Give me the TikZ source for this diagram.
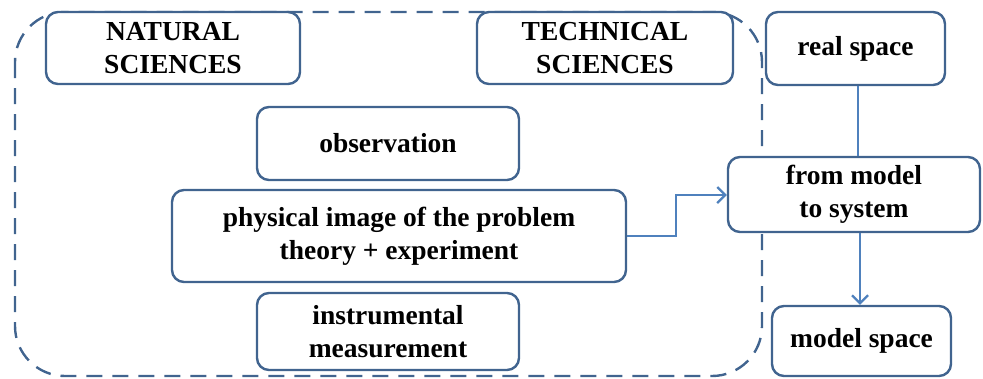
\documentclass[tikz,border=0pt]{standalone}
\usepackage{fontspec}
\setmainfont{Liberation Serif}
\usetikzlibrary{arrows.meta}
\definecolor{boxc}{HTML}{41648F}
\definecolor{linec}{HTML}{4F81BD}
\begin{document}
\begin{tikzpicture}[x=1pt,y=-1pt,
  box/.style={draw=boxc,fill=white,line width=2.4pt,rounded corners=12pt,align=center,
    font=\fontsize{27.5}{33}\selectfont\bfseries,inner sep=0pt},
  conn/.style={draw=linec,line width=2.2pt},
  arr/.style={conn,-{Straight Barb[length=8pt,width=16pt,line width=2.2pt]}}]
\useasboundingbox (0,0) rectangle (983,378);
\draw[boxc,line width=2.4pt,dash pattern=on 16pt off 10pt,rounded corners=50pt]
  (15,12) rectangle (762,376);
\node[box,minimum width=254pt,minimum height=72pt] (nat) at (173,48) {NATURAL\\SCIENCES};
\node[box,minimum width=256pt,minimum height=72pt] (tech) at (605,48) {TECHNICAL\\SCIENCES};
\node[box,minimum width=262pt,minimum height=73pt] (obs) at (388,143.5) {observation};
\node[box,minimum width=454pt,minimum height=92pt] (phys) at (399,236) {physical image of the problem\\theory + experiment};
\node[box,minimum width=262pt,minimum height=77pt] (inst) at (388,331.5) {instrumental\\measurement};
\node[box,minimum width=179pt,minimum height=73pt] (real) at (855.5,48.5) {real space};
\node[box,minimum width=252pt,minimum height=75pt] (from) at (854,194.5) {from model\\to system};
\node[box,minimum width=179pt,minimum height=70pt] (model) at (861.5,341) {model space};
\coordinate (b1) at (676,236);
\coordinate (b2) at (676,195);
\draw[conn] (real.south -| 858,0) -- (from.north -| 858,0);
\draw[arr] (phys.east) -- (b1) -- (b2) -- (from.west |- b2);
\draw[arr] (from.south -| 860,0) -- (model.north -| 860,0);
\end{tikzpicture}
\end{document}
